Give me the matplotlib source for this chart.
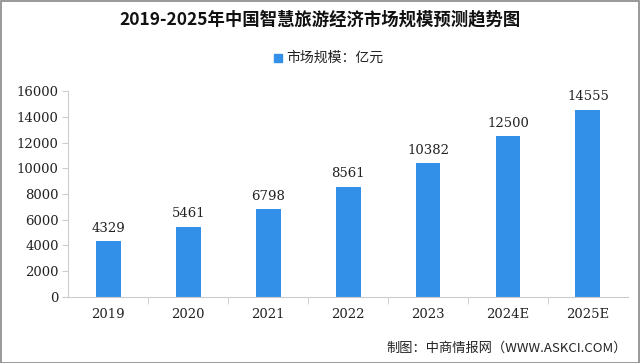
import matplotlib
matplotlib.use("Agg")
import matplotlib.pyplot as plt
from matplotlib.patches import Rectangle

plt.rcParams['font.family'] = ['Noto Sans CJK SC', 'DejaVu Sans']

categories = ['2019', '2020', '2021', '2022', '2023', '2024E', '2025E']
values = [4329, 5461, 6798, 8561, 10382, 12500, 14555]
yticks = [0, 2000, 4000, 6000, 8000, 10000, 12000, 14000, 16000]

bar_color = '#3390e8'
fig = plt.figure(figsize=(6.4, 3.63), dpi=100)
ax = fig.add_axes([0.107, 0.182, 0.874, 0.567])
x = list(range(len(categories)))
ax.bar(x, values, width=0.31, color=bar_color, zorder=2)
for xi, v in zip(x, values):
    ax.text(xi, v + 500, str(v), ha='center', va='bottom', fontsize=9.5, color='#222222',
            family=['DejaVu Serif'])
ax.set_xlim(-0.5, len(categories) - 0.5)
ax.set_ylim(0, 16000)
ax.set_yticks(yticks)
ax.set_yticklabels([str(t) for t in yticks], fontsize=9.5, family=['DejaVu Serif'], color='#222222')
ax.set_xticks(x)
ax.set_xticklabels(categories, fontsize=9.5, family=['DejaVu Serif'], color='#222222')
ax.set_xticks([i + 0.5 for i in x[:-1]], minor=True)
ax.tick_params(axis='x', which='major', length=0, pad=8)
ax.tick_params(axis='x', which='minor', length=5, color='#cccccc')
ax.tick_params(axis='y', length=4, color='#cccccc', pad=3)
for s in ['top', 'right']:
    ax.spines[s].set_visible(False)
for s in ['left', 'bottom']:
    ax.spines[s].set_color('#cccccc')

fig.text(0.5, 0.947, '2019-2025年中国智慧旅游经济市场规模预测趋势图', ha='center', va='center',
         fontsize=12.5, fontweight='bold', color='#111111')
fig.patches.append(Rectangle((0.428, 0.828), 0.012, 0.022, transform=fig.transFigure,
                             color=bar_color, figure=fig))
fig.text(0.448, 0.840, '市场规模：亿元', ha='left', va='center', fontsize=10, color='#222222')
fig.text(0.98, 0.042, '制图：中商情报网（WWW.ASKCI.COM）', ha='right', va='center',
         fontsize=9.5, color='#222222')
fig.patches.append(Rectangle((0.001, 0.001), 0.997, 0.997, transform=fig.transFigure,
                             fill=False, edgecolor='#888888', lw=1.2, figure=fig))
fig.savefig('out.png', dpi=100)
